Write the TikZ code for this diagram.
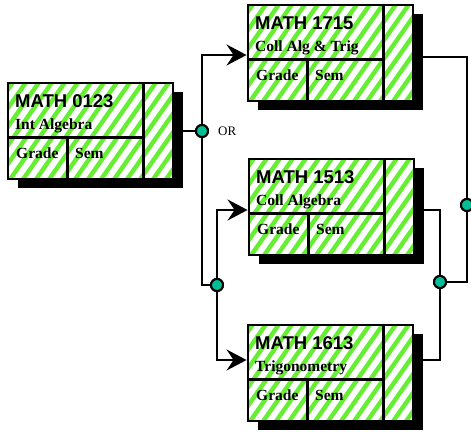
\documentclass[tikz,border=0pt]{standalone}
\usepackage{fontspec}
\setmainfont{Liberation Serif}
\newfontfamily\headfont{Liberation Sans}
\usetikzlibrary{arrows.meta}

\definecolor{stripegreen}{RGB}{102,238,51}
\definecolor{jointeal}{RGB}{0,190,150}

\tikzset{
  course/.style={draw, line width=2.9pt, minimum width=165pt, minimum height=96pt, inner sep=0pt},
  rule/.style={line width=2.9pt},
  stripe/.style={stripegreen, line width=4.4pt},
  wire/.style={line width=2.3pt},
  feed/.style={wire, -{Stealth[length=20pt,width=21pt,inset=7pt]}},
  joint/.style={circle, draw, line width=2pt, fill=jointeal, minimum size=12pt, inner sep=0pt},
  codetext/.style={anchor=base west, inner sep=0pt, font=\headfont\bfseries\fontsize{18.5}{18.5}\selectfont},
  nametext/.style={anchor=base west, inner sep=0pt, font=\bfseries\fontsize{15.5}{15.5}\selectfont},
  ortext/.style={anchor=west, inner sep=0pt, font=\fontsize{13}{13}\selectfont},
}

% #1 node name, #2 left, #3 top, #4 course code, #5 course title
\newcommand\coursebox[5]{%
  \fill[black] (#2+10,#3+9) rectangle ++(165,96);
  \begin{scope}
    \clip (#2,#3) rectangle ++(165,96);
    \fill[white] (#2,#3) rectangle ++(165,96);
    \foreach \k in {0,...,22}
      \draw[stripe] (#2-95+\k*13,#3+105) -- ++(84,-120);
  \end{scope}
  \node[course] (#1) at (#2+82.5,#3+48) {};
  \draw[rule] (#1.north west) ++(137,0) -- ++(0,96);
  \draw[rule] (#1.north west) ++(0,56) -- ++(137,0);
  \draw[rule] (#1.north west) ++(61,56) -- ++(0,40);
  \node[codetext] (#1-code) at (#2+7,#3+24) {#4};
  \node[nametext] (#1-name) at (#2+7,#3+46) {#5};
  \node[nametext] (#1-grade) at (#2+8,#3+75) {Grade};
  \node[nametext] (#1-sem) at (#2+67,#3+75) {Sem};
}

\begin{document}
\begin{tikzpicture}[x=1pt, y=-1pt]
  \useasboundingbox (0,0) rectangle (471,431);

  \coursebox{m0123}{8}{83}{MATH 0123}{Int Algebra}
  \coursebox{m1715}{248}{5}{MATH 1715}{Coll Alg \& Trig}
  \coursebox{m1513}{249}{159}{MATH 1513}{Coll Algebra}
  \coursebox{m1613}{248}{325}{MATH 1613}{Trigonometry}

  % branch points
  \node[joint] (j1) at (202,131) {};
  \node[joint] (j2) at (217,285) {};
  \node[joint] (j3) at (440,282) {};
  \node[joint] (j4) at (467,205) {};
  \node[ortext] (or) at ([xshift=9pt]j1.east) {OR};

  % connectors
  \draw[wire] (m0123.east) -- (j1);
  \draw[feed] (j1) |- ([yshift=-2pt]m1715.west);
  \draw[wire] (j1) |- (j2);
  \draw[feed] (j2) |- ([yshift=-3pt]m1513.west);
  \draw[feed] (j2) |- ([yshift=13pt]m1613.west);
  \draw[wire] ([yshift=-3pt]m1513.east) -| (j3);
  \draw[wire] ([yshift=13pt]m1613.east) -| (j3);
  \draw[wire] (j3) -| (j4);
  \draw[wire] (j4) |- ([yshift=-4pt]m1715.east);

  % redraw the joints above the wires
  \foreach \j in {j1,j2,j3,j4}
    \node[joint] at (\j) {};
\end{tikzpicture}
\end{document}
